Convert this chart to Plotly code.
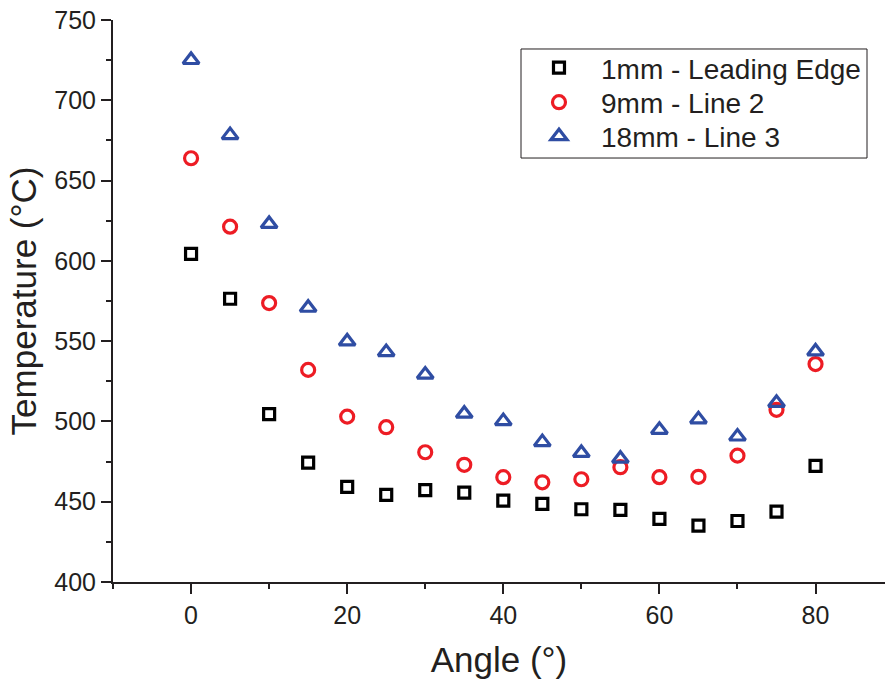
import plotly.graph_objects as go

# Surface temperature vs. angle at three chordwise stations
angle = [0, 5, 10, 15, 20, 25, 30, 35, 40, 45, 50, 55, 60, 65, 70, 75, 80]
t_1mm = [604.3, 576.4, 504.5, 474.4, 459.2, 454.2, 457.2, 455.7, 450.7, 448.6,
         445.3, 444.9, 439.3, 435.1, 438.0, 443.8, 472.3]
t_9mm = [663.9, 621.3, 573.7, 532.1, 503.0, 496.4, 480.8, 473.0, 465.3, 462.1,
         464.0, 471.5, 465.3, 465.5, 478.7, 507.2, 535.7]
t_18mm = [725.1, 678.3, 623.0, 570.8, 549.8, 543.2, 529.2, 504.8, 500.2, 487.1,
          480.4, 476.8, 494.8, 501.3, 490.6, 511.6, 543.6]

series_names = ["1mm - Leading Edge", "9mm - Line 2", "18mm - Line 3"]

INK = "#231F20"
RED = "#ED1C24"
BLUE = "#2F4DA3"
FONT = "Liberation Sans, Arial, sans-serif"

X_RANGE = [-10, 88.9]
Y_RANGE = [400, 750]

fig = go.Figure()
fig.add_trace(go.Scatter(
    x=angle, y=t_1mm, mode="markers", name=series_names[0], legend="legend",
    marker=dict(symbol="square-open", size=11, color="black",
                line=dict(width=3.2, color="black"))))
fig.add_trace(go.Scatter(
    x=angle, y=t_9mm, mode="markers", name=series_names[1], legend="legend2",
    marker=dict(symbol="circle-open", size=13, color=RED,
                line=dict(width=3.2, color=RED))))
fig.add_trace(go.Scatter(
    x=angle, y=t_18mm, mode="markers", name=series_names[2], legend="legend3",
    marker=dict(symbol="triangle-up-open", size=14, color=BLUE,
                line=dict(width=3.2, color=BLUE))))

# one legend per row so the row pitch can be set independently of font size
legend_rows_y = [0.9147, 0.8532, 0.7927]


def legend_row(y):
    return dict(
        x=0.5233, y=y, xanchor="left", yanchor="middle",
        bgcolor="rgba(0,0,0,0)", borderwidth=0,
        font=dict(size=28, family=FONT, color=INK),
        itemwidth=74, indentation=0,
    )


fig.update_layout(
    width=886, height=680,
    margin=dict(l=113, r=1, t=20, b=98),
    paper_bgcolor="white", plot_bgcolor="white",
    font=dict(family=FONT, color=INK),
    showlegend=True,
    legend=legend_row(legend_rows_y[0]),
    legend2=legend_row(legend_rows_y[1]),
    legend3=legend_row(legend_rows_y[2]),
    shapes=[dict(
        type="rect", xref="paper", yref="paper",
        x0=0.5285, x1=0.9767, y0=0.7544, y1=0.9484,
        line=dict(color=INK, width=1), fillcolor="white", layer="below",
    )],
    xaxis=dict(
        range=X_RANGE, dtick=20, tick0=0,
        showgrid=False, zeroline=False,
        showline=True, linecolor=INK, linewidth=2,
        ticks="outside", ticklen=10, tickwidth=2, tickcolor=INK,
        minor=dict(dtick=10, tick0=0, ticks="outside", ticklen=5,
                   tickwidth=2, tickcolor=INK, showgrid=False),
        tickfont=dict(size=25, family=FONT, color=INK),
        title=dict(text="Angle (°)", font=dict(size=35, family=FONT, color=INK),
                   standoff=19),
    ),
    yaxis=dict(
        range=Y_RANGE, dtick=50, tick0=400,
        showgrid=False, zeroline=False,
        showline=True, linecolor=INK, linewidth=2,
        ticks="outside", ticklen=10, tickwidth=2, tickcolor=INK,
        minor=dict(dtick=25, tick0=400, ticks="outside", ticklen=5,
                   tickwidth=2, tickcolor=INK, showgrid=False),
        tickfont=dict(size=25, family=FONT, color=INK),
        title=dict(text="Temperature (°C)", font=dict(size=35, family=FONT, color=INK),
                   standoff=7),
    ),
    xaxis2=dict(
        overlaying="x", anchor="y", side="top", matches="x",
        range=X_RANGE, dtick=10, tick0=0,
        showgrid=False, zeroline=False, showticklabels=False,
        showline=True, linecolor=INK, linewidth=2,
        ticks="inside", ticklen=10, tickwidth=2, tickcolor=INK,
    ),
    yaxis2=dict(
        overlaying="y", anchor="x", side="right",
        range=Y_RANGE, dtick=50, tick0=400,
        showgrid=False, zeroline=False, showticklabels=False,
        showline=False,
        ticks="inside", ticklen=3, tickwidth=2, tickcolor=INK,
    ),
)

fig.write_html("out.html")
